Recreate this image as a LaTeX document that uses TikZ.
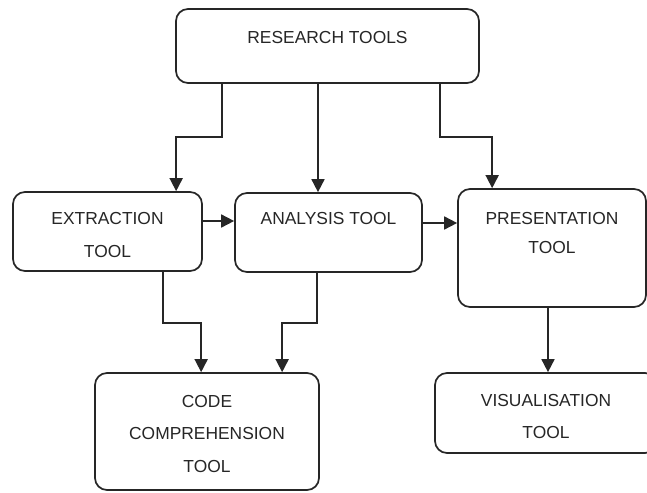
\documentclass[tikz,border=0pt]{standalone}
\usepackage{fontspec}
\setmainfont{Liberation Sans}
\usetikzlibrary{arrows.meta}
\definecolor{ink}{HTML}{262626}
\tikzset{
  box/.style={draw=ink, line width=1.7pt, rounded corners=12pt, fill=white, inner sep=0pt},
  txt/.style={text=ink, font=\fontsize{17.4}{19}\selectfont, anchor=base, inner sep=0pt},
  arr/.style={draw=ink, line width=1.7pt, -{Triangle[length=13pt,width=13pt]}}
}
\begin{document}
\begin{tikzpicture}[x=1pt,y=-1pt]
\useasboundingbox (0,0) rectangle (647,492);
\begin{scope}
\clip (0,0) rectangle (647,492);
% boxes
\node[box, minimum width=303pt, minimum height=74pt]  (res)  at (327.5,46)   {};
\node[box, minimum width=189pt, minimum height=79pt]  (ext)  at (107.5,231.5) {};
\node[box, minimum width=187pt, minimum height=79pt]  (ana)  at (328.5,232.5) {};
\node[box, minimum width=188pt, minimum height=118pt] (pre)  at (552,248)     {};
\node[box, minimum width=224pt, minimum height=117pt] (code) at (207,431.5)   {};
\node[box, minimum width=222pt, minimum height=80pt]  (vis)  at (546,413)     {};
\end{scope}
% texts
\node[txt] (t1) at (327.5,44) {RESEARCH TOOLS};
\node[txt] (t2) at (107.5,224) {EXTRACTION};
\node[txt] (t3) at (107.5,257) {TOOL};
\node[txt] (t4) at (328.5,224) {ANALYSIS TOOL};
\node[txt] (t5) at (552,224) {PRESENTATION};
\node[txt] (t6) at (552,253) {TOOL};
\node[txt] (t7) at (207,407) {CODE};
\node[txt] (t8) at (207,439) {COMPREHENSION};
\node[txt] (t9) at (207,472) {TOOL};
\node[txt] (t10) at (546,406) {VISUALISATION};
\node[txt] (t11) at (546,438) {TOOL};
% connectors
\draw[arr] ([xshift=47pt]res.south west) -- ++(0,53) -| ([xshift=164pt]ext.north west);
\coordinate (m) at ([xshift=-10.5pt]ana.north);
\draw[arr] (m |- res.south) -- (m);
\draw[arr] ([xshift=-40pt]res.south east) -- ++(0,53) -| ([xshift=35pt]pre.north west);
\coordinate (ea) at ([yshift=10.5pt]ext.east);
\draw[arr] (ea) -- (ea -| ana.west);
\coordinate (ae) at ([yshift=9.5pt]ana.east);
\draw[arr] (ae) -- (ae -| pre.west);
\draw[arr] ([xshift=151pt]ext.south west) -- ++(0,51) -| ([xshift=107pt]code.north west);
\draw[arr] ([xshift=83pt]ana.south west) -- ++(0,50) -| ([xshift=188pt]code.north west);
\coordinate (pv) at ([xshift=-4pt]pre.south);
\draw[arr] (pv) -- (pv |- vis.north);
\end{tikzpicture}
\end{document}
